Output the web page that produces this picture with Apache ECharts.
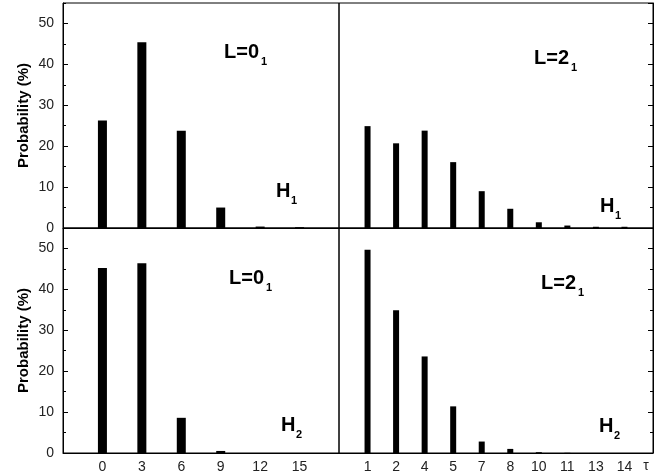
<!DOCTYPE html>
<html>
<head>
<meta charset="utf-8">
<script src="https://cdn.jsdelivr.net/npm/echarts@6/dist/echarts.min.js"></script>
<style>html,body{margin:0;padding:0;background:#fff}#c{width:670px;height:474px}</style>
</head>
<body>
<div id="c"></div>
<script>
// ---- data ----
var tauLeft = [0, 3, 6, 9, 12, 15];
var h1L0 = [26.3, 45.4, 23.8, 5.0, 0.35, 0.2];
var h2L0 = [45.2, 46.4, 8.6, 0.5, 0, 0];
var tauRight = ['1', '2', '4', '5', '7', '8', '10', '11', '13', '14'];
var h1L2 = [24.9, 20.7, 23.8, 16.1, 9.0, 4.7, 1.4, 0.6, 0.3, 0.3];
var h2L2 = [49.7, 34.9, 23.6, 11.4, 2.8, 1.0, 0.2, 0.05, 0, 0];
var yTicks = [0, 10, 20, 30, 40, 50];

var FONT = "'Liberation Sans', Arial, sans-serif";
var chart = echarts.init(document.getElementById('c'));

var grids = [
  {left: 63, top: 3, width: 276, height: 225},
  {left: 339, top: 3, width: 314, height: 225},
  {left: 63, top: 228, width: 276, height: 225},
  {left: 339, top: 228, width: 314, height: 225}
].map(function (g) {
  return Object.assign({show: true, borderColor: '#000', borderWidth: 1, backgroundColor: 'transparent', containLabel: false}, g);
});

function xLeft(gi, labels) {
  return {
    gridIndex: gi, type: 'value', min: -3, max: 18, interval: 3,
    axisLine: {show: true, onZero: false, lineStyle: {color: '#000', width: 1}},
    axisTick: {show: false}, splitLine: {show: false},
    axisLabel: {show: labels, margin: 7, color: '#222', fontSize: 14, fontFamily: FONT,
      formatter: function (v) { return tauLeft.indexOf(v) >= 0 ? String(v) : ''; }}
  };
}
function xRight(gi, labels) {
  return {
    gridIndex: gi, type: 'value', min: 0, max: tauRight.length + 1, interval: 1,
    axisLine: {show: true, onZero: false, lineStyle: {color: '#000', width: 1}},
    axisTick: {show: false}, splitLine: {show: false},
    axisLabel: {show: labels, margin: 7, color: '#222', fontSize: 14, fontFamily: FONT,
      formatter: function (v) { return (v >= 1 && v <= tauRight.length) ? tauRight[v - 1] : ''; }}
  };
}
function yMajor(gi, pos, labels) {
  var a = {
    gridIndex: gi, type: 'value', position: pos, min: 0, max: 55, interval: 10,
    axisLine: {show: true, onZero: false, lineStyle: {color: '#000', width: 1}},
    axisTick: {show: true, inside: true, length: 5, lineStyle: {color: '#000'}},
    splitLine: {show: false},
    axisLabel: {show: labels, margin: 9, color: '#222', fontSize: 14, fontFamily: FONT,
      showMaxLabel: false,
      formatter: function (v) { return yTicks.indexOf(v) >= 0 ? String(v) : ''; }}
  };
  if (labels) {
    a.name = 'Probability (%)';
    a.nameLocation = 'middle';
    a.nameGap = 32;
    a.nameTextStyle = {fontSize: 15, fontWeight: 'bold', fontFamily: FONT, color: '#000'};
  }
  return a;
}
function yMinor(gi, pos) {
  return {
    gridIndex: gi, type: 'value', position: pos, min: 0, max: 55, interval: 5,
    axisLine: {show: false, onZero: false},
    axisTick: {show: true, inside: true, length: 3, lineStyle: {color: '#000'}},
    splitLine: {show: false}, axisLabel: {show: false}
  };
}

var xAxes = [xLeft(0, false), xRight(1, false), xLeft(2, true), xRight(3, true)];
var yAxes = [
  yMajor(0, 'left', true), yMinor(0, 'left'),
  yMajor(1, 'right', false), yMinor(1, 'right'),
  yMajor(2, 'left', true), yMinor(2, 'left'),
  yMajor(3, 'right', false), yMinor(3, 'right')
];

function leftData(vals) { return tauLeft.map(function (t, i) { return [t, vals[i]]; }); }
function rightData(vals) { return tauRight.map(function (t, i) { return [i + 1, vals[i]]; }); }

var series = [
  {type: 'bar', xAxisIndex: 0, yAxisIndex: 0, barWidth: 9, data: leftData(h1L0)},
  {type: 'bar', xAxisIndex: 1, yAxisIndex: 2, barWidth: 6, data: rightData(h1L2)},
  {type: 'bar', xAxisIndex: 2, yAxisIndex: 4, barWidth: 9, data: leftData(h2L0)},
  {type: 'bar', xAxisIndex: 3, yAxisIndex: 6, barWidth: 6, data: rightData(h2L2)}
].map(function (s) {
  return Object.assign({itemStyle: {color: '#000'}, silent: true, animation: false}, s);
});

function label(main, sub, x, y, subDx, subDy) {
  return [
    {type: 'text', x: x, y: y, style: {text: main, font: 'bold 20px ' + FONT, fill: '#000', verticalAlign: 'middle', align: 'left'}},
    {type: 'text', x: x + subDx, y: y + subDy, style: {text: sub, font: 'bold 11px ' + FONT, fill: '#000', verticalAlign: 'middle', align: 'left'}}
  ];
}
var graphics = [].concat(
  label('L=0', '1', 224, 52, 37, 10),
  label('L=2', '1', 534, 58, 37, 10),
  label('L=0', '1', 229, 278, 37, 10),
  label('L=2', '1', 541, 283, 37, 10),
  label('H', '1', 276, 191, 15, 9.5),
  label('H', '1', 600, 206, 15, 9.5),
  label('H', '2', 281, 425, 15, 9.5),
  label('H', '2', 599, 426, 15, 9.5),
  [{type: 'text', x: 646, y: 466, style: {text: 'τ', font: '14px ' + FONT, fill: '#222', verticalAlign: 'middle', align: 'center'}}]
);

chart.setOption({
  animation: false,
  grid: grids,
  xAxis: xAxes,
  yAxis: yAxes,
  series: series,
  graphic: graphics
});
</script>
</body>
</html>
